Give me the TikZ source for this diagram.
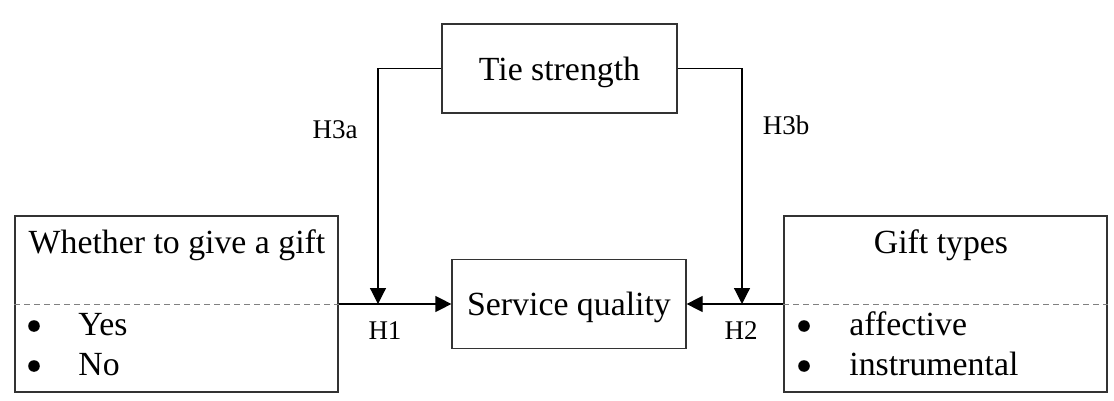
\documentclass[tikz,border=0pt]{standalone}
\usepackage{fontspec}
\setmainfont{Liberation Serif}
\usetikzlibrary{arrows.meta}

\begin{document}
\begin{tikzpicture}[x=0.5pt, y=-0.5pt,
    box/.style={draw=black!80, line width=0.6pt, inner sep=0pt, text depth=0pt, font=\fontsize{16.9}{20}\selectfont},
    txt/.style={inner sep=0pt, font=\fontsize{16.9}{20}\selectfont},
    dot/.style={circle, fill, inner sep=0pt, minimum size=5.8pt},
    hyp/.style={inner sep=0pt, anchor=base, font=\fontsize{13.5}{16}\selectfont},
    sep/.style={draw=black!50, line width=0.5pt, dash pattern=on 3pt off 2pt},
    arr/.style={line width=0.6pt, -{Triangle[length=8pt, width=8pt]}}]
      \useasboundingbox (0,0) rectangle (1114,401);
      % Tie strength
      \node[box, minimum width=117.5pt, minimum height=44.5pt] (tie) at (559.5,68.5) {Tie strength};
      % Service quality
      \node[box, minimum width=117pt, minimum height=44.5pt] (sq) at (569,304) {Service quality};
      % Whether to give a gift
      \node[box, minimum width=161.5pt, minimum height=88pt] (gift) at (176.5,304) {};
      \draw[sep] (gift.west) -- (gift.east);
      \node[txt, anchor=base] (giftt) at (177,253) {Whether to give a gift};
      \node[dot] (gb1) at (34,326) {};
      \node[txt, anchor=base west] (gi1) at (78,335) {Yes};
      \node[dot] (gb2) at (34,366) {};
      \node[txt, anchor=base west] (gi2) at (78,375) {No};
      % Gift types
      \node[box, minimum width=161.5pt, minimum height=88pt] (types) at (945.5,304) {};
      \draw[sep] (types.west) -- (types.east);
      \node[txt, anchor=base] (typest) at (941,253) {Gift types};
      \node[dot] (tb1) at (804,326) {};
      \node[txt, anchor=base west] (ti1) at (849,335) {affective};
      \node[dot] (tb2) at (804,366) {};
      \node[txt, anchor=base west] (ti2) at (849,375) {instrumental};

      % Hypothesen
      \coordinate (m1) at (378,304);
      \coordinate (m2) at (742,304);
      \draw[arr] (gift.east) -- (sq.west);
      \draw[arr] (types.west) -- (sq.east);
      \draw[arr] (tie.west) -| (m1);
      \draw[arr] (tie.east) -| (m2);
      \node[hyp] (h3a) at (335,139) {H3a};
      \node[hyp] (h3b) at (786,134) {H3b};
      \node[hyp] (h1) at (385,339) {H1};
      \node[hyp] (h2) at (741,339) {H2};
\end{tikzpicture}
\end{document}
